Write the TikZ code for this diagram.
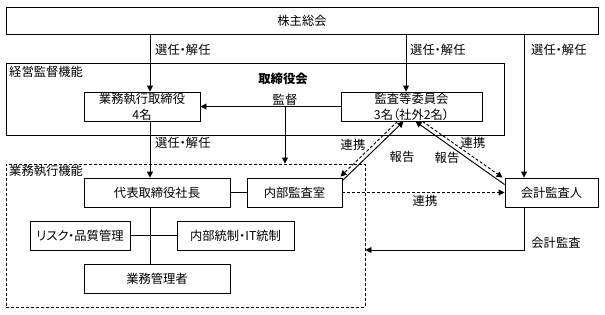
\documentclass[tikz,border=0pt]{standalone}
\usepackage{fontspec}
\setmainfont[RawFeature=+palt]{Noto Sans CJK JP}
\usetikzlibrary{arrows.meta,calc}
\newcommand\jfs{\fontsize{12.3}{16}\selectfont}
\begin{document}
\begin{tikzpicture}[x=1pt,y=-1pt,
  ln/.style={line width=0.95pt},
  box/.style={draw, ln, inner sep=0pt, minimum height=29pt, align=center, font=\jfs},
  lab/.style={inner sep=0pt, font=\jfs},
  arr/.style={ln, -{Triangle[length=6pt,width=6pt]}},
  dsh/.style={dash pattern=on 3pt off 2pt},
]
\useasboundingbox (0,0) rectangle (605,314);
% frames
\node[draw, ln, inner sep=0pt, minimum width=498pt, minimum height=72pt] (mframe) at (255,99) {};
\node[draw, ln, dsh, inner sep=0pt, minimum width=359pt, minimum height=143pt] (xframe) at (185.5,235.5) {};
% boxes
\node[box, minimum width=592pt, minimum height=27pt] (top) at (302,20.5) {株主総会};
\node[box, minimum width=116pt] (exec) at (142,106.5) {業務執行取締役\\4名};
\node[box, minimum width=141pt] (audit) at (411.5,106.5) {監査等委員会\\3名（社外2名）};
\node[box, minimum width=146pt] (ceo) at (157,192.5) {代表取締役社長};
\node[box, minimum width=95pt] (ia) at (294.5,192.5) {内部監査室};
\node[box, minimum width=100pt] (risk) at (80,235.5) {リスク・品質管理};
\node[box, minimum width=117pt] (ic) at (235.5,235.5) {内部統制・IT統制};
\node[box, minimum width=146pt] (mgr) at (157,278.5) {業務管理者};
\node[box, minimum width=93pt] (ext) at (551.5,192.5) {会計監査人};
% labels
\node[lab, anchor=west] (l1) at (155,50) {選任・解任};
\node[lab, anchor=west] (l2) at (410,50) {選任・解任};
\node[lab, anchor=west] (l3) at (531,50) {選任・解任};
\node[lab, anchor=west] (l4) at (155,143) {選任・解任};
\node[lab, anchor=west] (f1) at (9,72) {経営監督機能};
\node[lab, anchor=west] (f2) at (9,171) {業務執行機能};
\node[lab, font=\jfs\bfseries] (bod) at (283,79) {取締役会};
\node[lab] (kt) at (285,99.5) {監督};
\node[lab] (r1) at (353,145) {連携};
\node[lab] (r2) at (402,157) {報告};
\node[lab] (r3) at (447,158) {報告};
\node[lab] (r4) at (473,143) {連携};
\node[lab] (r5) at (425,201) {連携};
\node[lab] (ka) at (556,243) {会計監査};
% helper coordinates
\coordinate (x150) at (150,0);
\coordinate (x406) at (406,0);
\coordinate (x524) at (524,0);
\coordinate (kp) at (285,106.5);
\coordinate (y250) at (0,250);
% connectors
\draw[arr] (top.south -| x150) -- (exec.north -| x150);
\draw[arr] (top.south -| x406) -- (audit.north -| x406);
\draw[arr] (top.south -| x524) -- (ext.north -| x524);
\draw[arr] (audit.west) -- (exec.east);
\draw[arr] (kp) -- (xframe.north -| kp);
\draw[arr] (exec.south -| x150) -- (ceo.north -| x150);
\draw[ln] (ceo.east) -- (ia.west);
\draw[ln] (ceo.south -| x150) -- (mgr.north -| x150);
\draw[ln] (risk.east) -- (ic.west);
\draw[arr, dsh] (ia.east) -- (ext.west);
\draw[arr] (ext.south -| x524) |- (xframe.east |- y250);
% diagonals
\draw[arr] ($(ia.north east)+(0,3)$) -- ($(audit.south)+(-8,0)$);
\draw[arr, dsh] ($(audit.south)+(-14,0)$) -- ($(ia.north east)+(-2,-1)$);
\draw[arr] ($(ext.north west)+(0,7)$) -- ($(audit.south)+(4,0)$);
\draw[arr, dsh] ($(audit.south)+(11,0)$) -- ($(ext.north west)+(-2,0)$);
\end{tikzpicture}
\end{document}
